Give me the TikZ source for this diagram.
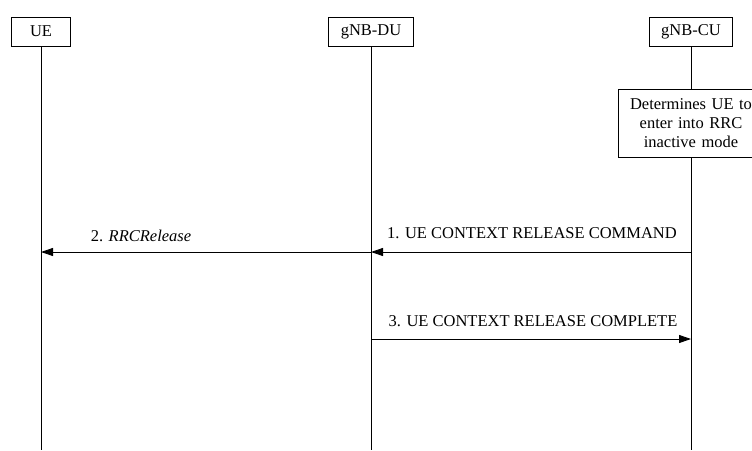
\documentclass[tikz,border=0pt]{standalone}
\usepackage{fontspec}
\setmainfont{Liberation Serif}
\usetikzlibrary{arrows.meta}
\usetikzlibrary{positioning}
\tikzset{entity/.style = {draw, line width=0.9pt, minimum width=59, minimum height=29, inner xsep=12, font=\fontsize{16.5}{19}\selectfont}}
\tikzset{decision/.style = {draw, line width=0.9pt, fill=white, text width=142, align=center, minimum height=68, inner sep=2, font=\fontsize{16.5}{19}\selectfont}}
\tikzset{life/.style = {line width=0.9pt}}
\tikzset{msg/.style = {line width=0.9pt, -{Triangle[length=12pt, width=8pt]}}}
\tikzset{lbl/.style = {font=\fontsize{16.5}{19}\selectfont, inner sep=2}}

\begin{document}
\begin{tikzpicture}[x=1pt, y=-1pt]
      \useasboundingbox (0,0) rectangle (752,450);

      \node [entity] at (41, 31.5) (ue) {UE};
      \node [entity] at (371, 31.5) (du) {gNB-DU};
      \node [entity] at (691, 32) (cu) {gNB-CU};
      \node [decision] at (691, 123) (decide) {Determines UE to\\enter into RRC\\inactive mode};

      \coordinate (ue-end) at (41, 450);
      \coordinate (du-end) at (371, 450);
      \coordinate (cu-end) at (691, 450);

      \draw [life] (ue) -- (ue-end);
      \draw [life] (du) -- (du-end);
      \draw [life] (cu) -- (decide);
      \draw [life] (decide) -- (cu-end);

      \coordinate (cu-one) at (691, 252);
      \coordinate (du-one) at (371, 252);
      \coordinate (ue-two) at (41, 252);
      \coordinate (du-three) at (371, 339);
      \coordinate (cu-three) at (691, 339);

      \draw [msg] (cu-one) -- (du-one);
      \draw [msg] (du-one) -- (ue-two);
      \draw [msg] (du-three) -- (cu-three);

      \node [lbl] at (532, 233) (one) {1. UE CONTEXT RELEASE COMMAND};
      \node [lbl] at (141, 236) (two) {2. \textit{RRCRelease}};
      \node [lbl] at (533, 321) (three) {3. UE CONTEXT RELEASE COMPLETE};
\end{tikzpicture}
\end{document}
